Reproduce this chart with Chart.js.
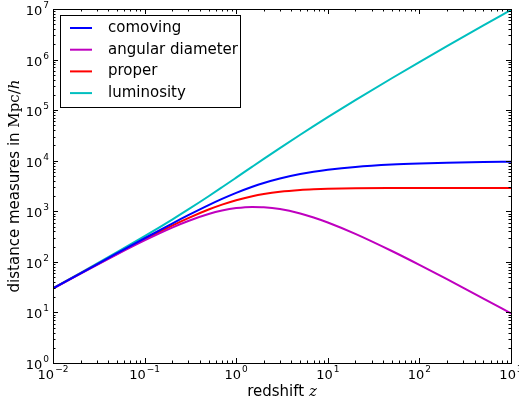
<!DOCTYPE html>
<html>
<head>
<meta charset="utf-8">
<script src="https://cdn.jsdelivr.net/npm/chart.js@4/dist/chart.umd.min.js"></script>
<style>
  body { margin: 0; background: #fff; }
  #wrap { width: 519px; height: 403px; position: relative; }
</style>
</head>
<body>
<div id="wrap"><canvas id="chart"></canvas></div>
<script>
// redshift samples
const redshift = [0.01, 0.02, 0.05, 0.1, 0.2, 0.3, 0.5, 0.7, 1, 1.5, 2, 3, 5, 7, 10, 20, 50, 100, 200, 500, 1000];

// distances in Mpc/h
const comoving = [29.9, 59.5, 148, 293, 572, 836, 1322, 1754, 2312, 3054, 3625, 4449, 5443, 6038, 6608, 7519, 8376, 8820, 9136, 9419, 9562];
const angular = [29.6, 58.3, 141, 266, 477, 643, 881, 1032, 1156, 1222, 1208, 1112, 907, 755, 601, 358, 164, 87.3, 45.5, 18.8, 9.55];
const proper = [29.8, 59.1, 144.6, 279, 522, 734, 1082, 1352, 1656, 1989, 2198, 2437, 2643, 2730, 2791, 2853, 2881, 2888, 2890, 2891, 2891];
const luminosity = [30.2, 60.7, 155, 322, 686, 1087, 1983, 2982, 4624, 7635, 10875, 17796, 32658, 48304, 72688, 157899, 427176, 890820, 1836336, 4719019, 9571562];

const xDecades = [-2, -1, 0, 1, 2, 3];
const yDecades = [0, 1, 2, 3, 4, 5, 6, 7];

const series = [
  { label: 'comoving', values: comoving, color: '#0000ff' },
  { label: 'angular diameter', values: angular, color: '#bf00bf' },
  { label: 'proper', values: proper, color: '#ff0000' },
  { label: 'luminosity', values: luminosity, color: '#00bfbf' }
];

function pts(values) {
  return redshift.map((z, i) => ({ x: z, y: values[i] }));
}

const SANS = '"DejaVu Sans", sans-serif';
const SERIF = '"DejaVu Serif", serif';

function powLabel(ctx, exp, x, y, align) {
  // draws 10^exp, align 'center' or 'right', y is vertical middle
  const base = '10';
  const sup = String(exp).replace('-', '\u2212');
  ctx.font = '13px ' + SANS;
  const wb = ctx.measureText(base).width;
  ctx.font = '9px ' + SANS;
  const ws = ctx.measureText(sup).width;
  const total = wb + ws + 1;
  let x0 = align === 'center' ? x - total / 2 : x - total;
  ctx.textAlign = 'left';
  ctx.textBaseline = 'alphabetic';
  ctx.font = '13px ' + SANS;
  ctx.fillText(base, x0, y + 6);
  ctx.font = '9px ' + SANS;
  ctx.fillText(sup, x0 + wb + 1, y - 1);
}

const axesPlugin = {
  id: 'axesPlugin',
  afterDraw(chart) {
    const ctx = chart.ctx;
    const a = chart.chartArea;
    const xs = chart.scales.x, ys = chart.scales.y;
    ctx.save();
    ctx.strokeStyle = '#000';
    ctx.fillStyle = '#000';
    ctx.lineWidth = 1;

    // ticks on all four sides, pointing inward
    ctx.beginPath();
    xDecades.forEach(d => {
      for (let m = 1; m <= 9; m++) {
        const v = m * Math.pow(10, d);
        if (v < xs.min || v > xs.max) continue;
        const px = Math.round(xs.getPixelForValue(v)) + 0.5;
        const len = m === 1 ? 5 : 2.5;
        ctx.moveTo(px, a.bottom); ctx.lineTo(px, a.bottom - len);
        ctx.moveTo(px, a.top); ctx.lineTo(px, a.top + len);
      }
    });
    yDecades.forEach(d => {
      for (let m = 1; m <= 9; m++) {
        const v = m * Math.pow(10, d);
        if (v < ys.min || v > ys.max) continue;
        const py = Math.round(ys.getPixelForValue(v)) + 0.5;
        const len = m === 1 ? 5 : 2.5;
        ctx.moveTo(a.left, py); ctx.lineTo(a.left + len, py);
        ctx.moveTo(a.right, py); ctx.lineTo(a.right - len, py);
      }
    });
    ctx.stroke();

    // frame
    ctx.strokeRect(Math.round(a.left) + 0.5, Math.round(a.top) + 0.5,
      Math.round(a.right - a.left), Math.round(a.bottom - a.top));

    // tick labels
    xDecades.forEach(d => {
      powLabel(ctx, d, xs.getPixelForValue(Math.pow(10, d)), a.bottom + 10, 'center');
    });
    yDecades.forEach(d => {
      powLabel(ctx, d, a.left - 4, ys.getPixelForValue(Math.pow(10, d)), 'right');
    });

    // x title: redshift z
    ctx.textBaseline = 'alphabetic';
    ctx.textAlign = 'left';
    ctx.font = '15px ' + SANS;
    const t1 = 'redshift ';
    const w1 = ctx.measureText(t1).width;
    ctx.font = 'italic 15px ' + SERIF;
    const w2 = ctx.measureText('z').width;
    let x0 = (a.left + a.right) / 2 - (w1 + w2) / 2;
    ctx.font = '15px ' + SANS;
    ctx.fillText(t1, x0, 396);
    ctx.font = 'italic 15px ' + SERIF;
    ctx.fillText('z', x0 + w1, 396);

    // y title: distance measures in Mpc/h
    ctx.save();
    ctx.translate(19, (a.top + a.bottom) / 2);
    ctx.rotate(-Math.PI / 2);
    const parts = [
      ['distance measures in ', '15px ' + SANS],
      ['Mpc', '15px ' + SERIF],
      ['/', '15px ' + SERIF],
      ['h', 'italic 15px ' + SERIF]
    ];
    let tw = 0;
    parts.forEach(p => { ctx.font = p[1]; tw += ctx.measureText(p[0]).width; });
    let cx = -tw / 2;
    parts.forEach(p => {
      ctx.font = p[1];
      ctx.fillText(p[0], cx, 0);
      cx += ctx.measureText(p[0]).width;
    });
    ctx.restore();

    // legend
    const lx = 60, ly = 15, lw = 180, lh = 92;
    ctx.fillStyle = '#fff';
    ctx.fillRect(lx, ly, lw, lh);
    ctx.strokeStyle = '#000';
    ctx.strokeRect(lx + 0.5, ly + 0.5, lw, lh);
    chart.data.datasets.forEach((ds, i) => {
      const y = 28 + i * 21.7;
      ctx.strokeStyle = ds.borderColor;
      ctx.lineWidth = 2;
      ctx.beginPath();
      ctx.moveTo(70, y); ctx.lineTo(92, y);
      ctx.stroke();
      ctx.fillStyle = '#000';
      ctx.font = '15px ' + SANS;
      ctx.textBaseline = 'middle';
      ctx.fillText(ds.label, 108, y);
    });
    ctx.restore();
  }
};

new Chart(document.getElementById('chart'), {
  type: 'scatter',
  data: {
    datasets: series.map(s => ({
      label: s.label,
      data: pts(s.values),
      showLine: true,
      borderColor: s.color,
      backgroundColor: s.color,
      borderWidth: 2,
      pointRadius: 0,
      cubicInterpolationMode: 'monotone'
    }))
  },
  options: {
    responsive: true,
    maintainAspectRatio: false,
    animation: false,
    layout: { padding: { left: 53, top: 9, right: 8, bottom: 40 } },
    plugins: { legend: { display: false }, tooltip: { enabled: false } },
    scales: {
      x: { type: 'logarithmic', min: 0.01, max: 1000, display: false },
      y: { type: 'logarithmic', min: 1, max: 1e7, display: false }
    }
  },
  plugins: [axesPlugin]
});
</script>
</body>
</html>
